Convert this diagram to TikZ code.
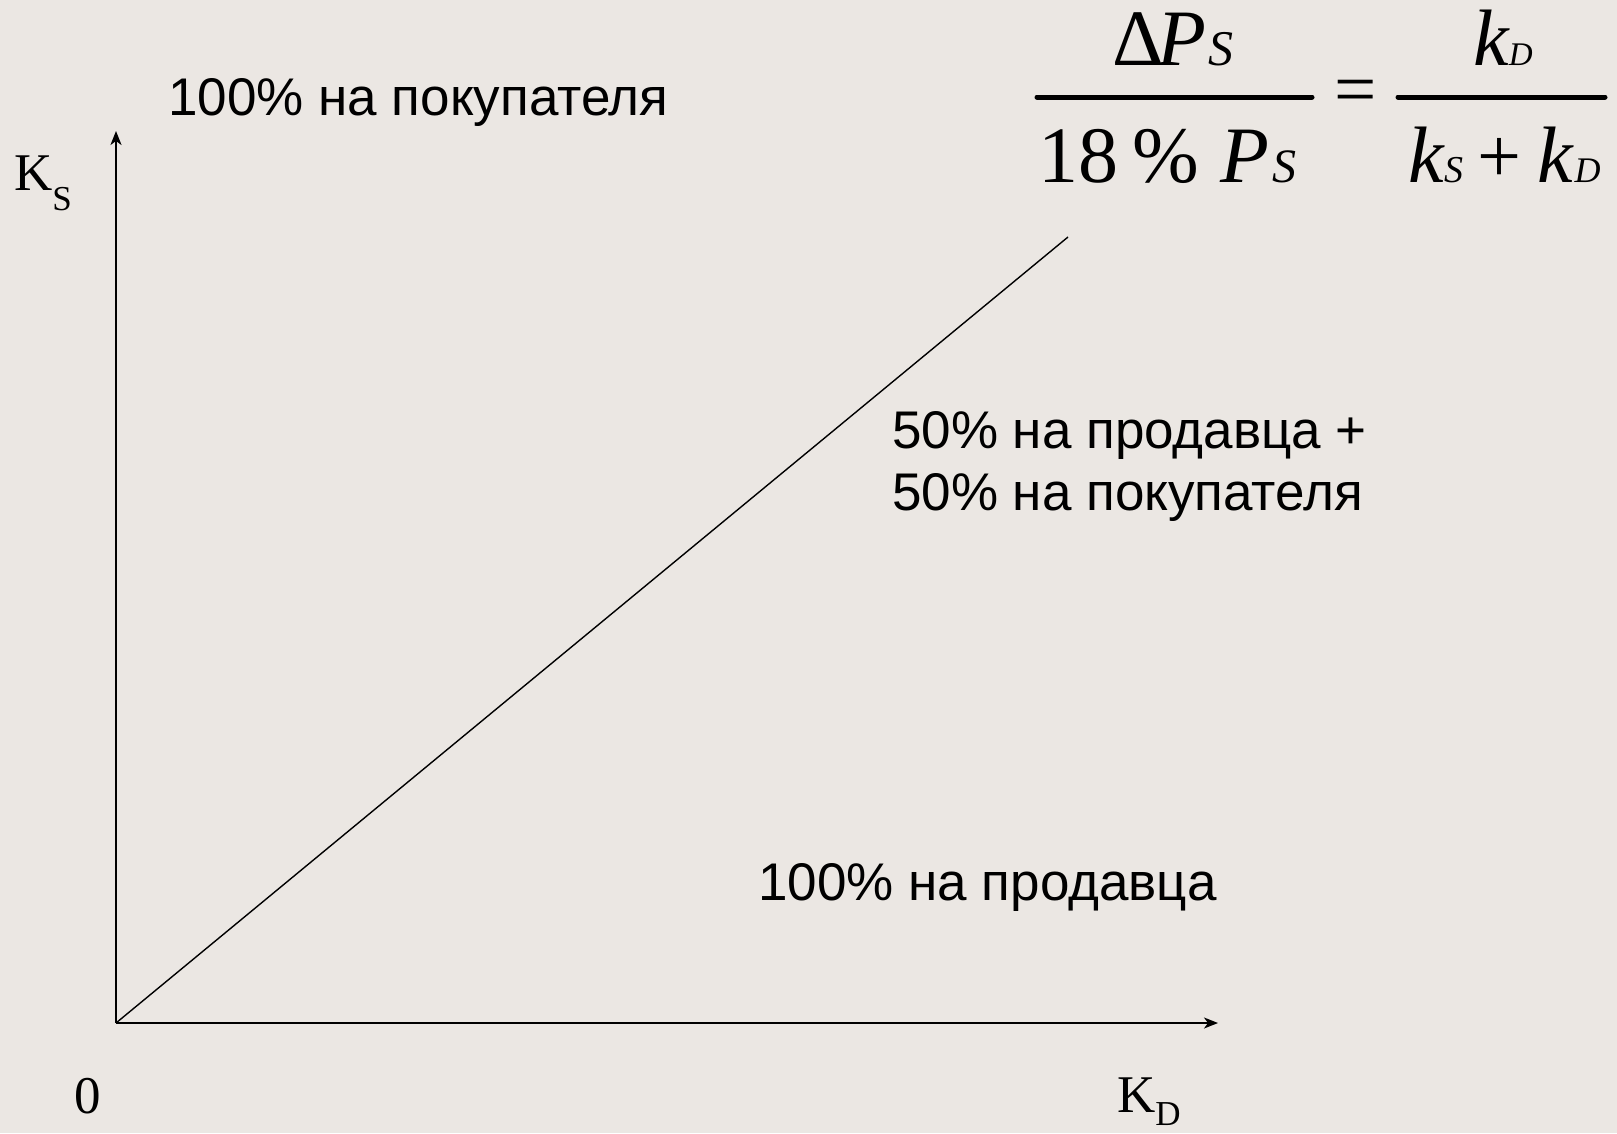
\documentclass[tikz,border=0pt]{standalone}
\usepackage{fontspec}
\setmainfont{Liberation Serif}
\newfontfamily\arialfont{Liberation Sans}
\usetikzlibrary{arrows.meta}
\definecolor{slidebg}{RGB}{235,231,227}
\tikzset{>={Stealth[length=14pt,width=11pt,inset=4pt]}}
\newcommand{\fsz}[1]{\fontsize{#1}{#1}\selectfont}

\begin{document}
\begin{tikzpicture}[x=1pt,y=-1pt,
  axis/.style={line width=1.8pt,black},
  zone/.style={inner sep=0pt,anchor=base west,font=\arialfont\fontsize{53}{62}\selectfont},
  sym/.style={inner sep=0pt,anchor=base west,font=\fsz{53}},
  fbar/.style={line width=5pt,line cap=round}]

\fill[slidebg] (0,0) rectangle (1617,1133);
\useasboundingbox (0,0) rectangle (1617,1133);

% axes
\coordinate (O) at (116,1023);
\coordinate (Ytop) at (116,131);
\coordinate (Xend) at (1218,1023);
\coordinate (Half) at (1068,237);

\draw[axis, ->] (O) -- (Ytop);
\draw[axis, ->] (O) -- (Xend);
\draw[line width=1.4pt] (O) -- (Half);

\node[sym] (ks) at (14,190) {K\raisebox{-20pt}{\fsz{35}S}};
\node[sym] (kd) at (1117,1112) {K\raisebox{-13pt}{\fsz{35}D}};
\node[sym] (zero) at (74,1113) {0};

% zones
\node[zone] (buyer) at (168,115) {100\% на покупателя};
\node[zone, align=left] (both) at (892,510) {50\% на продавца +\\50\% на покупателя};
\node[zone] (seller) at (758,900) {100\% на продавца};

% formula
\node[sym] (numL) at (1112,65) {\fsz{80}Δ\kern-6pt\textit{P}\kern2pt\fsz{50}\textit{S}};
\node[sym] (denL) at (1038,182) {\fsz{80}18\kern14pt\%\kern22pt\textit{P}\kern3pt\fsz{48}\textit{S}};
\draw[fbar] (1037,97) -- (1312,97);
\node[inner sep=0pt, font=\fsz{75}] (eq) at (1356,97) {=};
\draw[fbar] (1398,97) -- (1605,97);
\node[sym] (numR) at (1473,65) {\fsz{80}\textit{k}\kern-1pt\fsz{33}\textit{D}};
\node[sym] (denR) at (1408,182) {\fsz{80}\textit{k}\fsz{38}\textit{S}\kern14pt\fsz{78}+\kern16pt\fsz{80}\textit{k}\fsz{36}\textit{D}};

\end{tikzpicture}
\end{document}
